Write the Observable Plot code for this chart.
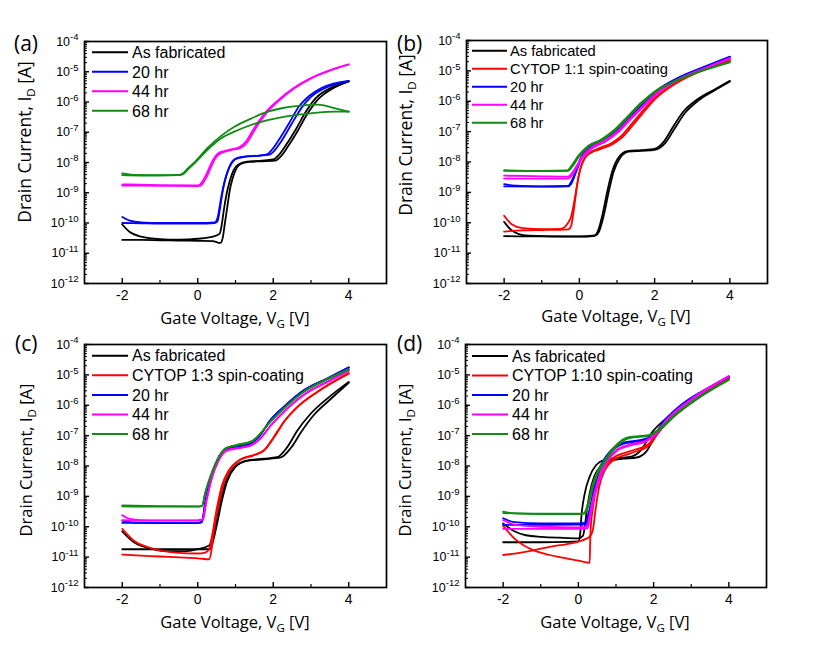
<!DOCTYPE html>
<html><head><meta charset="utf-8">
<script src="https://cdn.jsdelivr.net/npm/d3@7"></script>
<script src="https://cdn.jsdelivr.net/npm/@observablehq/plot@0.6"></script>
<style>
body{margin:0;background:#fff;}
#fig{position:relative;width:830px;height:646px;overflow:hidden;background:#fff;font-family:"Liberation Sans",Arial,sans-serif;}
.panel{position:absolute;}
</style></head>
<body><div id="fig"></div>
<script>
// ---------- axis ticks ----------
const xTicks = [-2, 0, 2, 4];
const xMinorTicks = [-1, 1, 3];
const yExponents = [-12, -11, -10, -9, -8, -7, -6, -5, -4];
const yMinorMultipliers = [2, 3, 4, 5, 6, 7, 8, 9];

// ---------- data: [gate voltage V, log10(drain current A)] ----------
// panel (a)
const a_fab_fwd = [[-2,-10.56],[-1.5,-10.56],[-1,-10.57],[-0.5,-10.58],[0,-10.59],[0.4,-10.6],[0.6,-10.66],[0.66,-10.5],[0.72,-10.0],[0.78,-9.5],[0.85,-8.9],[0.93,-8.5],[1.02,-8.2],[1.15,-8.04],[1.35,-7.98],[1.7,-7.96],[2.05,-7.94],[2.2,-7.8],[2.4,-7.45],[2.65,-6.95],[2.9,-6.4],[3.18,-5.92],[3.55,-5.57],[4,-5.32]];
const a_fab_bwd = [[-2,-10.05],[-1.8,-10.3],[-1.5,-10.45],[-1,-10.53],[-0.5,-10.55],[0,-10.52],[0.4,-10.45],[0.58,-10.35],[0.63,-10.1],[0.7,-9.5],[0.77,-9.0],[0.85,-8.6],[0.95,-8.25],[1.1,-8.05],[1.3,-7.97],[1.7,-7.94],[2.0,-7.9],[2.15,-7.75],[2.35,-7.4],[2.6,-6.9],[2.85,-6.35],[3.12,-5.88],[3.5,-5.55],[4,-5.32]];
const a_20_fwd = [[-2,-10.0],[-1.5,-10.01],[-1,-10.02],[-0.5,-10.02],[0,-10.02],[0.45,-10.0],[0.52,-9.95],[0.58,-9.6],[0.64,-9.1],[0.7,-8.7],[0.78,-8.35],[0.9,-8.02],[1.05,-7.85],[1.3,-7.8],[1.6,-7.78],[1.9,-7.74],[2.0,-7.65],[2.2,-7.32],[2.47,-6.76],[2.74,-6.21],[3.0,-5.83],[3.35,-5.55],[4,-5.31]];
const a_20_bwd = [[-2,-9.8],[-1.8,-9.92],[-1.5,-9.98],[-1,-10.0],[0,-10.0],[0.45,-9.98],[0.53,-9.8],[0.6,-9.3],[0.67,-8.85],[0.75,-8.45],[0.86,-8.08],[1.0,-7.88],[1.3,-7.8],[1.6,-7.77],[1.85,-7.72],[1.95,-7.6],[2.15,-7.25],[2.42,-6.7],[2.68,-6.15],[2.95,-5.8],[3.3,-5.52],[4,-5.3]];
const a_44_fwd = [[-2,-8.76],[-1,-8.77],[0,-8.78],[0.09,-8.76],[0.18,-8.6],[0.26,-8.42],[0.35,-8.15],[0.44,-7.92],[0.55,-7.74],[0.7,-7.65],[0.88,-7.59],[1.15,-7.51],[1.32,-7.32],[1.45,-7.05],[1.59,-6.76],[1.85,-6.32],[2.12,-5.99],[2.56,-5.55],[3.0,-5.22],[3.53,-4.95],[4,-4.76]];
const a_44_bwd = [[-2,-8.72],[-1,-8.75],[0,-8.76],[0.07,-8.72],[0.16,-8.55],[0.24,-8.36],[0.33,-8.1],[0.42,-7.88],[0.53,-7.71],[0.7,-7.62],[0.88,-7.57],[1.12,-7.48],[1.3,-7.27],[1.43,-7.0],[1.57,-6.72],[1.83,-6.29],[2.1,-5.97],[2.55,-5.53],[3.0,-5.21],[3.53,-4.94],[4,-4.76]];
const a_68_fwd = [[-2,-8.42],[-1.5,-8.43],[-1,-8.43],[-0.5,-8.42],[-0.38,-8.38],[-0.25,-8.22],[-0.09,-8.03],[0.26,-7.58],[0.62,-7.2],[0.97,-6.98],[1.41,-6.76],[1.85,-6.6],[2.29,-6.49],[2.74,-6.41],[3.18,-6.35],[3.62,-6.32],[4,-6.32]];
const a_68_bwd = [[-2,-8.36],[-1.7,-8.41],[-1,-8.42],[-0.5,-8.41],[-0.4,-8.36],[-0.25,-8.18],[-0.09,-8.0],[0.26,-7.52],[0.62,-7.12],[0.97,-6.82],[1.41,-6.55],[1.85,-6.32],[2.29,-6.19],[2.74,-6.12],[3.18,-6.09],[3.62,-6.2],[4,-6.32]];
// panel (b)
const b_fab_fwd = [[-2,-10.44],[-1.5,-10.45],[-1,-10.45],[-0.5,-10.46],[0,-10.46],[0.3,-10.45],[0.43,-10.42],[0.52,-10.3],[0.65,-9.75],[0.78,-8.98],[0.91,-8.32],[1.09,-7.85],[1.31,-7.66],[1.66,-7.63],[2.0,-7.6],[2.28,-7.38],[2.54,-6.88],[2.81,-6.38],[3.16,-5.98],[3.6,-5.64],[4,-5.35]];
const b_fab_bwd = [[-2,-9.97],[-1.8,-10.25],[-1.43,-10.42],[-1,-10.44],[0,-10.45],[0.4,-10.42],[0.5,-10.25],[0.62,-9.7],[0.75,-8.92],[0.88,-8.28],[1.06,-7.82],[1.28,-7.64],[1.66,-7.61],[2.0,-7.57],[2.25,-7.32],[2.5,-6.82],[2.77,-6.33],[3.12,-5.95],[3.58,-5.62],[4,-5.33]];
const b_cytop_fwd = [[-2,-10.29],[-1.5,-10.25],[-1,-10.24],[-0.5,-10.23],[-0.3,-10.22],[-0.22,-10.1],[-0.15,-9.6],[-0.06,-8.75],[0.03,-8.2],[0.15,-7.85],[0.3,-7.7],[0.52,-7.59],[0.87,-7.42],[1.13,-7.2],[1.4,-6.82],[1.66,-6.43],[2.01,-5.93],[2.54,-5.43],[3.16,-5.04],[4,-4.66]];
const b_cytop_bwd = [[-2,-9.77],[-1.8,-10.05],[-1.5,-10.18],[-1,-10.21],[-0.5,-10.2],[-0.3,-10.0],[-0.22,-9.8],[-0.15,-9.4],[-0.08,-8.9],[0.0,-8.35],[0.1,-7.98],[0.25,-7.72],[0.5,-7.56],[0.85,-7.38],[1.1,-7.16],[1.38,-6.76],[1.64,-6.38],[2.0,-5.9],[2.54,-5.41],[3.16,-5.02],[4,-4.64]];
const b_20_fwd = [[-2,-8.8],[-1,-8.81],[-0.3,-8.8],[-0.22,-8.72],[-0.1,-8.37],[0.07,-7.85],[0.34,-7.5],[0.69,-7.26],[1.05,-6.92],[1.4,-6.47],[1.75,-6.02],[2.1,-5.64],[2.63,-5.25],[3.34,-4.87],[4,-4.55]];
const b_20_bwd = [[-2,-8.73],[-1.7,-8.78],[-1,-8.8],[-0.3,-8.79],[-0.24,-8.7],[-0.12,-8.4],[0.05,-7.82],[0.32,-7.46],[0.67,-7.22],[1.03,-6.88],[1.38,-6.44],[1.73,-6.0],[2.08,-5.62],[2.62,-5.23],[3.33,-4.86],[4,-4.53]];
const b_44_fwd = [[-2,-8.55],[-1,-8.55],[-0.3,-8.55],[-0.22,-8.48],[-0.1,-8.25],[0.07,-7.88],[0.34,-7.55],[0.69,-7.33],[1.05,-7.0],[1.4,-6.55],[1.75,-6.12],[2.1,-5.72],[2.63,-5.3],[3.34,-4.92],[4,-4.6]];
const b_44_bwd = [[-2,-8.45],[-1,-8.47],[-0.3,-8.48],[-0.22,-8.4],[-0.1,-8.18],[0.07,-7.82],[0.34,-7.5],[0.69,-7.28],[1.05,-6.95],[1.4,-6.5],[1.75,-6.08],[2.1,-5.68],[2.63,-5.27],[3.34,-4.9],[4,-4.58]];
const b_68_fwd = [[-2,-8.29],[-1,-8.3],[-0.3,-8.29],[-0.2,-8.17],[-0.01,-7.82],[0.25,-7.49],[0.6,-7.28],[0.96,-6.95],[1.31,-6.51],[1.66,-6.07],[2.05,-5.66],[2.63,-5.3],[3.34,-4.97],[4,-4.72]];
const b_68_bwd = [[-2,-8.27],[-1,-8.29],[-0.32,-8.28],[-0.22,-8.14],[-0.03,-7.8],[0.23,-7.47],[0.58,-7.26],[0.94,-6.93],[1.29,-6.49],[1.64,-6.05],[2.03,-5.65],[2.62,-5.29],[3.33,-4.96],[4,-4.7]];
// panel (c)
const c_fab_fwd = [[-2,-10.74],[-1,-10.74],[0,-10.74],[0.33,-10.74],[0.4,-10.5],[0.51,-9.91],[0.64,-9.14],[0.77,-8.53],[0.99,-8.04],[1.3,-7.82],[1.75,-7.76],[2.1,-7.71],[2.37,-7.38],[2.64,-6.83],[2.99,-6.28],[3.43,-5.78],[4,-5.23]];
const c_fab_bwd = [[-2,-10.15],[-1.7,-10.5],[-1.3,-10.7],[-0.8,-10.8],[-0.3,-10.8],[0,-10.74],[0.3,-10.62],[0.38,-10.4],[0.47,-9.95],[0.6,-9.2],[0.73,-8.58],[0.95,-8.07],[1.27,-7.84],[1.75,-7.78],[2.2,-7.72],[2.47,-7.4],[2.74,-6.88],[3.07,-6.33],[3.5,-5.82],[4,-5.26]];
const c_cytop_fwd = [[-2,-10.07],[-1.7,-10.45],[-1.3,-10.68],[-1,-10.78],[-0.5,-10.86],[0,-10.88],[0.2,-10.85],[0.3,-10.75],[0.37,-10.35],[0.51,-9.36],[0.64,-8.64],[0.82,-8.15],[1.08,-7.82],[1.48,-7.65],[1.75,-7.49],[2.01,-7.05],[2.28,-6.55],[2.64,-6.06],[3.17,-5.56],[4,-4.96]];
const c_cytop_bwd = [[-2,-10.92],[-1.5,-10.95],[-1,-10.98],[-0.5,-11.01],[0,-11.04],[0.3,-11.07],[0.36,-10.8],[0.42,-10.2],[0.55,-9.3],[0.68,-8.6],[0.86,-8.12],[1.12,-7.8],[1.5,-7.63],[1.78,-7.46],[2.04,-7.02],[2.3,-6.52],[2.66,-6.03],[3.19,-5.54],[4,-4.94]];
const c_20_fwd = [[-2,-9.87],[-1,-9.88],[0,-9.88],[0.11,-9.86],[0.19,-9.25],[0.33,-8.48],[0.51,-7.82],[0.73,-7.47],[1.04,-7.38],[1.39,-7.27],[1.61,-7.05],[1.92,-6.5],[2.28,-6.06],[2.81,-5.51],[3.43,-5.12],[4,-4.76]];
const c_20_bwd = [[-2,-9.8],[-1.7,-9.86],[-1,-9.87],[0,-9.87],[0.12,-9.8],[0.2,-9.2],[0.34,-8.45],[0.52,-7.8],[0.74,-7.45],[1.05,-7.36],[1.4,-7.25],[1.62,-7.03],[1.93,-6.48],[2.29,-6.04],[2.82,-5.5],[3.44,-5.11],[4,-4.75]];
const c_44_fwd = [[-2,-9.62],[-1.8,-9.74],[-1.5,-9.78],[-1,-9.79],[0,-9.79],[0.13,-9.75],[0.22,-9.2],[0.36,-8.45],[0.54,-7.85],[0.76,-7.5],[1.07,-7.42],[1.42,-7.32],[1.64,-7.12],[1.95,-6.65],[2.3,-6.2],[2.83,-5.65],[3.45,-5.23],[4,-4.87]];
const c_44_bwd = [[-2,-9.78],[-1,-9.8],[0,-9.8],[0.14,-9.76],[0.23,-9.15],[0.37,-8.4],[0.55,-7.83],[0.77,-7.48],[1.08,-7.4],[1.43,-7.3],[1.65,-7.1],[1.96,-6.62],[2.31,-6.17],[2.84,-5.62],[3.46,-5.2],[4,-4.85]];
const c_68_fwd = [[-2,-9.33],[-1,-9.34],[0,-9.34],[0.11,-9.32],[0.19,-8.92],[0.33,-8.37],[0.51,-7.82],[0.73,-7.43],[1.04,-7.32],[1.45,-7.18],[1.65,-6.95],[1.92,-6.55],[2.28,-6.11],[2.81,-5.56],[3.43,-5.15],[4,-4.83]];
const c_68_bwd = [[-2,-9.3],[-1,-9.32],[0,-9.33],[0.12,-9.3],[0.2,-8.88],[0.34,-8.33],[0.52,-7.8],[0.74,-7.41],[1.05,-7.3],[1.46,-7.16],[1.66,-6.93],[1.93,-6.53],[2.29,-6.09],[2.82,-5.54],[3.44,-5.13],[4,-4.81]];
// panel (d)
const d_fab_fwd = [[-2,-10.51],[-1,-10.51],[-0.3,-10.5],[0,-10.48],[0.05,-10.2],[0.08,-9.67],[0.17,-8.9],[0.3,-8.35],[0.48,-7.96],[0.7,-7.8],[1.05,-7.74],[1.41,-7.69],[1.67,-7.47],[1.94,-6.92],[2.29,-6.48],[2.73,-6.04],[3.35,-5.54],[4,-5.05]];
const d_fab_bwd = [[-2,-9.89],[-1.7,-10.15],[-1.4,-10.28],[-0.98,-10.33],[-0.5,-10.36],[0,-10.38],[0.12,-10.3],[0.17,-10.0],[0.22,-9.5],[0.3,-8.9],[0.42,-8.35],[0.6,-8.0],[0.85,-7.82],[1.2,-7.76],[1.55,-7.72],[1.82,-7.5],[2.05,-7.0],[2.38,-6.55],[2.8,-6.1],[3.4,-5.58],[4,-5.07]];
const d_cytop_fwd = [[-2,-9.97],[-1.65,-10.44],[-1.2,-10.77],[-0.76,-10.93],[-0.32,-11.04],[0.12,-11.15],[0.3,-11.19],[0.32,-10.22],[0.39,-9.34],[0.52,-8.46],[0.7,-8.02],[0.92,-7.74],[1.36,-7.52],[1.89,-7.25],[2.07,-6.92],[2.4,-6.45],[2.78,-5.98],[3.35,-5.52],[4,-5.1]];
const d_cytop_bwd = [[-2,-10.93],[-1.65,-10.88],[-1.2,-10.78],[-0.76,-10.66],[-0.3,-10.57],[0,-10.49],[0.2,-10.4],[0.32,-10.3],[0.4,-10.0],[0.45,-9.5],[0.55,-8.7],[0.72,-8.1],[0.95,-7.8],[1.4,-7.58],[1.9,-7.3],[2.1,-6.95],[2.42,-6.48],[2.8,-6.0],[3.37,-5.53],[4,-5.1]];
const d_20_fwd = [[-2,-9.94],[-1,-9.94],[0,-9.93],[0.22,-9.92],[0.28,-9.7],[0.35,-9.34],[0.48,-8.46],[0.66,-7.91],[0.88,-7.52],[1.19,-7.27],[1.72,-7.16],[2.0,-7.03],[2.34,-6.48],[2.78,-5.98],[3.31,-5.54],[4,-5.07]];
const d_20_bwd = [[-2,-9.72],[-1.7,-9.85],[-1,-9.89],[0,-9.89],[0.2,-9.86],[0.26,-9.6],[0.33,-9.25],[0.46,-8.4],[0.64,-7.87],[0.86,-7.49],[1.17,-7.24],[1.7,-7.13],[1.98,-7.0],[2.32,-6.46],[2.76,-5.96],[3.3,-5.53],[4,-5.06]];
const d_44_fwd = [[-2,-10.07],[-1,-10.07],[0,-10.07],[0.24,-10.05],[0.3,-9.8],[0.39,-9.2],[0.52,-8.62],[0.7,-8.02],[1.01,-7.52],[1.36,-7.33],[1.8,-7.19],[2.05,-6.97],[2.42,-6.42],[2.96,-5.87],[4,-5.05]];
const d_44_bwd = [[-2,-9.78],[-1.7,-9.93],[-1,-10.0],[0,-10.02],[0.22,-10.0],[0.28,-9.75],[0.37,-9.15],[0.5,-8.55],[0.68,-7.98],[0.99,-7.49],[1.34,-7.3],[1.78,-7.17],[2.03,-6.95],[2.4,-6.4],[2.94,-5.85],[4,-5.04]];
const d_68_fwd = [[-2,-9.5],[-1.7,-9.56],[-1,-9.58],[0,-9.58],[0.17,-9.57],[0.26,-9.34],[0.39,-8.68],[0.52,-8.24],[0.74,-7.8],[1.01,-7.36],[1.36,-7.08],[1.89,-7.0],[2.16,-6.81],[2.6,-6.31],[3.13,-5.82],[4,-5.17]];
const d_68_bwd = [[-2,-9.55],[-1,-9.57],[0,-9.57],[0.15,-9.55],[0.24,-9.3],[0.37,-8.64],[0.5,-8.2],[0.72,-7.77],[0.99,-7.33],[1.34,-7.05],[1.87,-6.98],[2.14,-6.79],[2.58,-6.29],[3.11,-5.8],[4,-5.15]];

// ---------- series names and colours ----------
const namesA = ["As fabricated", "20 hr", "44 hr", "68 hr"];
const namesB = ["As fabricated", "CYTOP 1:1 spin-coating", "20 hr", "44 hr", "68 hr"];
const namesC = ["As fabricated", "CYTOP 1:3 spin-coating", "20 hr", "44 hr", "68 hr"];
const namesD = ["As fabricated", "CYTOP 1:10 spin-coating", "20 hr", "44 hr", "68 hr"];
const colorsA = ["#000000", "#0000ff", "#ff00ff", "#138a13"];
const colorsB = ["#000000", "#ff0000", "#0000ff", "#ff00ff", "#138a13"];
const panelLetters = ["(a)", "(b)", "(c)", "(d)"];
const xTitle = ["Gate Voltage, V", "G", " [V]"];
const yTitle = ["Drain Current, I", "D", " [A]"];

// ---------- layout ----------
const titleFont = "'Open Sans','Noto Sans','Liberation Sans',sans-serif";
const bodyFont = "'Liberation Sans',Arial,sans-serif";
const panels = [
  {letter: 0, names: namesA, colors: colorsA, sweeps: [[a_fab_fwd,a_fab_bwd],[a_20_fwd,a_20_bwd],[a_44_fwd,a_44_bwd],[a_68_fwd,a_68_bwd]],
   left: 0, top: 0, w: 395, h: 323, mt: 41, mr: 9, mb: 40, ml: 84,
   letterPos: [14, 51], xl: [235, 324], yl: [25, 142], ysize: 17.5,
   leg: {x1: 92, x2: 128, tx: 132, y0: 52.3, dy: 19.5, fs: 16}},
  {letter: 1, names: namesB, colors: colorsB, sweeps: [[b_fab_fwd,b_fab_bwd],[b_cytop_fwd,b_cytop_bwd],[b_20_fwd,b_20_bwd],[b_44_fwd,b_44_bwd],[b_68_fwd,b_68_bwd]],
   left: 395, top: 0, w: 435, h: 323, mt: 40, mr: 63, mb: 40, ml: 71,
   letterPos: [2, 51], xl: [221, 322], yl: [10.5, 135], ysize: 17.5,
   leg: {x1: 77, x2: 112, tx: 115, y0: 50.7, dy: 18, fs: 14.7}},
  {letter: 2, names: namesC, colors: colorsB, sweeps: [[c_fab_fwd,c_fab_bwd],[c_cytop_fwd,c_cytop_bwd],[c_20_fwd,c_20_bwd],[c_44_fwd,c_44_bwd],[c_68_fwd,c_68_bwd]],
   left: 0, top: 323, w: 395, h: 323, mt: 21, mr: 9, mb: 59, ml: 84,
   letterPos: [15, 28], xl: [235, 305], yl: [26, 137], ysize: 16.5,
   leg: {x1: 92, x2: 128, tx: 132, y0: 32.7, dy: 19.6, fs: 16}},
  {letter: 3, names: namesD, colors: colorsB, sweeps: [[d_fab_fwd,d_fab_bwd],[d_cytop_fwd,d_cytop_bwd],[d_20_fwd,d_20_bwd],[d_44_fwd,d_44_bwd],[d_68_fwd,d_68_bwd]],
   left: 395, top: 323, w: 435, h: 323, mt: 21, mr: 64, mb: 59, ml: 70,
   letterPos: [2, 28], xl: [220, 305], yl: [10.5, 137], ysize: 16.5,
   leg: {x1: 77, x2: 113, tx: 117, y0: 33, dy: 19.5, fs: 16}}
];

const yMajor = yExponents.map(e => Math.pow(10, e));
const yMinor = [];
yExponents.slice(0, -1).forEach(e => yMinorMultipliers.forEach(m => yMinor.push(m * Math.pow(10, e))));

const fig = document.getElementById("fig");

panels.forEach(p => {
  const rows = [];
  p.sweeps.forEach((pair, i) => pair.forEach((sw, j) => sw.forEach(([v, e]) =>
    rows.push({v, I: Math.pow(10, e), key: i + "-" + j, color: p.colors[i]}))));
  const fw = p.w - p.ml - p.mr, fh = p.h - p.mt - p.mb;
  const chart = Plot.plot({
    width: p.w, height: p.h,
    marginTop: p.mt, marginRight: p.mr, marginBottom: p.mb, marginLeft: p.ml,
    style: {background: "transparent", overflow: "visible", fontFamily: bodyFont, color: "#000", maxWidth: "none"},
    x: {domain: [-3, 5]},
    y: {type: "log", domain: [1e-12, 1e-4]},
    color: {type: "identity"},
    marks: [
      Plot.line(rows, {x: "v", y: "I", z: "key", stroke: "color", strokeWidth: 1.8, curve: "monotone-x"}),
      Plot.tickX(xTicks, {x: d => d, insetTop: fh - 5, stroke: "#000", strokeWidth: 1.4}),
      Plot.tickX(xMinorTicks, {x: d => d, insetTop: fh - 3, stroke: "#000", strokeWidth: 1.2}),
      Plot.tickY(yMajor, {y: d => d, insetRight: fw - 5, stroke: "#000", strokeWidth: 1.4}),
      Plot.tickY(yMinor, {y: d => d, insetRight: fw - 3, stroke: "#000", strokeWidth: 1}),
      Plot.axisX(xTicks, {tickSize: 0, tickPadding: 7, tickFormat: d => String(d), fontSize: 14, label: null}),
      Plot.axisY(yMajor, {tickSize: 0, tickPadding: 6, tickFormat: d => "10^" + Math.round(Math.log10(d)), fontSize: 12.5, label: null}),
      Plot.frame({stroke: "#000", strokeWidth: 1.7})
    ]
  });
  const svg = d3.select(chart);
  // superscript tick labels
  svg.selectAll("text").each(function() {
    const t = this.textContent;
    if (t.startsWith("10^")) {
      const s = d3.select(this);
      s.text(null);
      s.append("tspan").text("10");
      s.append("tspan").attr("dy", "-0.55em").attr("font-size", "9.5px").text(t.slice(3));
    }
  });
  // x title
  const xt = svg.append("text").attr("x", p.xl[0]).attr("y", p.xl[1]).attr("text-anchor", "middle")
    .attr("font-family", titleFont).attr("font-size", 16.5).attr("fill", "#000");
  xt.append("tspan").text(xTitle[0]);
  xt.append("tspan").attr("dy", 4).attr("font-size", 11.5).text(xTitle[1]);
  xt.append("tspan").attr("dy", -4).text(xTitle[2]);
  // y title
  const yt = svg.append("text").attr("transform", `translate(${p.yl[0]},${p.yl[1]}) rotate(-90)`)
    .attr("text-anchor", "middle").attr("dy", "0.35em")
    .attr("font-family", titleFont).attr("font-size", p.ysize).attr("fill", "#000");
  yt.append("tspan").text(yTitle[0]);
  yt.append("tspan").attr("dy", 4).attr("font-size", 11.5).text(yTitle[1]);
  yt.append("tspan").attr("dy", -4).text(yTitle[2]);
  // panel letter
  svg.append("text").attr("x", p.letterPos[0]).attr("y", p.letterPos[1]).attr("text-anchor", "start")
    .attr("font-family", titleFont).attr("font-size", 21).attr("fill", "#000").text(panelLetters[p.letter]);
  // legend
  const lg = svg.append("g").attr("text-anchor", "start");
  p.names.forEach((name, i) => {
    const y = p.leg.y0 + i * p.leg.dy;
    lg.append("line").attr("x1", p.leg.x1).attr("x2", p.leg.x2).attr("y1", y).attr("y2", y)
      .attr("stroke", p.colors[i]).attr("stroke-width", 2);
    lg.append("text").attr("x", p.leg.tx).attr("y", y).attr("dy", "0.36em").attr("text-anchor", "start")
      .attr("font-family", bodyFont).attr("font-size", p.leg.fs).attr("fill", "#000").text(name);
  });
  const div = document.createElement("div");
  div.className = "panel";
  div.style.left = p.left + "px";
  div.style.top = p.top + "px";
  div.style.width = p.w + "px";
  div.style.height = p.h + "px";
  div.appendChild(chart);
  fig.appendChild(div);
});
</script>
</body></html>
